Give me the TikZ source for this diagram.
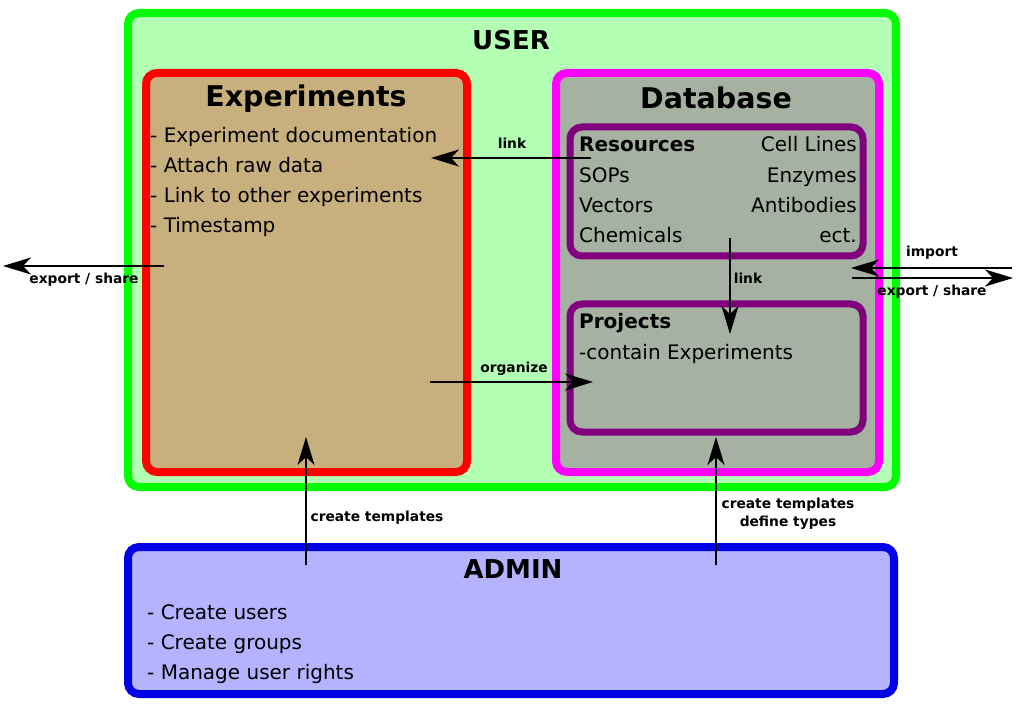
\documentclass[tikz,border=0pt]{standalone}
\usepackage{fontspec}
\setmainfont{DejaVu Sans}
\usetikzlibrary{arrows.meta}
\definecolor{usergreen}{RGB}{0,255,0}
\definecolor{userfill}{RGB}{179,255,179}
\definecolor{expred}{RGB}{255,0,0}
\definecolor{expfill}{RGB}{200,176,126}
\definecolor{dbmag}{RGB}{255,0,255}
\definecolor{dbfill}{RGB}{165,177,161}
\definecolor{respurple}{RGB}{128,0,128}
\definecolor{adminblue}{RGB}{0,0,230}
\definecolor{adminfill}{RGB}{179,179,255}
\tikzset{
  box/.style={draw, line width=8pt, rounded corners=11pt, inner sep=0pt},
  inbox/.style={draw=respurple, line width=7pt, rounded corners=12pt, inner sep=0pt},
  item/.style={anchor=base west, inner sep=0pt, font=\fontsize{20}{22}\selectfont},
  itemr/.style={anchor=base east, inner sep=0pt, font=\fontsize{20}{22}\selectfont},
  head/.style={anchor=base, inner sep=0pt, font=\fontsize{28.5}{30}\selectfont\bfseries},
  bighead/.style={anchor=base, inner sep=0pt, font=\fontsize{26}{28}\selectfont\bfseries},
  lbl/.style={anchor=base, inner sep=0pt, font=\fontsize{13.8}{16}\selectfont\bfseries, align=center},
  conn/.style={line width=2pt, -{Stealth[length=28pt, width=17pt, inset=8pt]}}
}
\begin{document}
\begin{tikzpicture}[x=1pt, y=-1pt]
\useasboundingbox (0,0) rectangle (1035,708);
% boxes
\node[box, draw=usergreen, fill=userfill, minimum width=768pt, minimum height=474pt] (user) at (512,250) {};
\node[box, draw=expred, fill=expfill, minimum width=321pt, minimum height=399pt] (exp) at (306.5,272.5) {};
\node[box, draw=dbmag, fill=dbfill, minimum width=323pt, minimum height=399pt] (db) at (717.5,272.5) {};
\node[inbox, fill=dbfill, minimum width=293pt, minimum height=129pt] (res) at (716.5,191.5) {};
\node[inbox, fill=dbfill, minimum width=293pt, minimum height=128pt] (proj) at (716.5,368) {};
\node[box, draw=adminblue, fill=adminfill, minimum width=766pt, minimum height=147pt] (admin) at (511,620.5) {};
% titles
\node[bighead] (usert) at (511,50) {USER};
\node[head] (expt) at (306,107) {Experiments};
\node[head] (dbt) at (716,109) {Database};
\node[bighead] (admint) at (513,578) {ADMIN};
% experiment items
\node[item] (e1) at (150,143) {- Experiment documentation};
\node[item] (e2) at (150,173) {- Attach raw data};
\node[item] (e3) at (150,203) {- Link to other experiments};
\node[item] (e4) at (150,233) {- Timestamp};
% resources
\node[item, font=\fontsize{20}{22}\selectfont\bfseries] (r0) at (579,152) {Resources};
\node[item] (r1) at (579,183) {SOPs};
\node[item] (r2) at (579,213) {Vectors};
\node[item] (r3) at (579,243) {Chemicals};
\node[itemr] (r4) at (857,152) {Cell Lines};
\node[itemr] (r5) at (857,183) {Enzymes};
\node[itemr] (r6) at (857,213) {Antibodies};
\node[itemr] (r7) at (857,243) {ect.};
% projects
\node[item, font=\fontsize{20}{22}\selectfont\bfseries] (p0) at (579,328) {Projects};
\node[item] (p1) at (579,359) {-contain Experiments};
% admin
\node[item] (a1) at (147,619) {- Create users};
\node[item] (a2) at (147,649) {- Create groups};
\node[item] (a3) at (147,679) {- Manage user rights};
% connector endpoints
\coordinate (linkS) at (591,158);
\coordinate (linkE) at (431,158);
\coordinate (exS) at (164,266);
\coordinate (exE) at (3,266);
\coordinate (imS) at (1012,268);
\coordinate (imE) at (851,268);
\coordinate (ex2S) at (852,278);
\coordinate (ex2E) at (1013,278);
\coordinate (l2S) at (730,238);
\coordinate (l2E) at (730,334);
\coordinate (orgS) at (430,382);
\coordinate (orgE) at (593,382);
\coordinate (ct1S) at (306,565);
\coordinate (ct1E) at (306,437);
\coordinate (ct2S) at (716,565);
\coordinate (ct2E) at (716,437);
% connectors
\draw[conn] (linkS) -- (linkE);
\draw[conn] (exS) -- (exE);
\draw[conn] (imS) -- (imE);
\draw[conn] (ex2S) -- (ex2E);
\draw[conn] (l2S) -- (l2E);
\draw[conn] (orgS) -- (orgE);
\draw[conn] (ct1S) -- (ct1E);
\draw[conn] (ct2S) -- (ct2E);
% labels
\node[lbl] (ll1) at (512,149) {link};
\node[lbl] (ll2) at (84,284) {export / share};
\node[lbl] (ll3) at (932,257) {import};
\node[lbl] (ll4) at (932,296) {export / share};
\node[lbl] (ll5) at (748,284) {link};
\node[lbl] (ll6) at (514,372) {organize};
\node[lbl] (ll7) at (377,521) {create templates};
\node[lbl] (ll8) at (788,508) {create templates};
\node[lbl] (ll9) at (788,526) {define types};
\end{tikzpicture}
\end{document}
